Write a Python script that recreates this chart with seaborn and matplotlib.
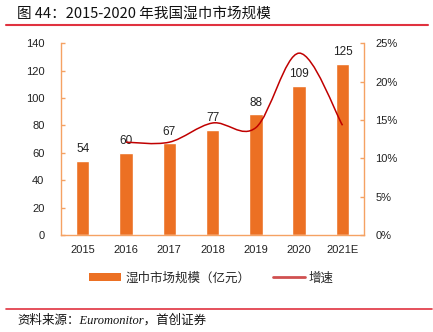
import matplotlib
matplotlib.use("Agg")
import numpy as np
import pandas as pd
import seaborn as sns
import matplotlib.pyplot as plt
from matplotlib.path import Path
from matplotlib.patches import PathPatch, Patch
from matplotlib.lines import Line2D
from matplotlib.ticker import PercentFormatter, MultipleLocator

# Wet-wipe market size (100 million CNY) and year-on-year growth
years = ["2015", "2016", "2017", "2018", "2019", "2020", "2021E"]
market_size = [54, 60, 67, 77, 88, 109, 125]
growth_years = ["2016", "2017", "2018", "2019", "2020", "2021E"]
growth = [0.121, 0.121, 0.146, 0.140, 0.237, 0.143]

title_text = "图 44：2015-2020 年我国湿巾市场规模"
bar_label = "湿巾市场规模（亿元）"
line_label = "增速"
source_text = "资料来源：Euromonitor，首创证券"

BAR = "#EC7023"
SPINE = "#F5A263"
LINE = "#C00000"
RULE = "#E0323F"

sns.set_theme(style="white")
plt.rcParams["font.family"] = ["Liberation Sans", "Noto Sans CJK SC"]

fig = plt.figure(figsize=(4.33, 3.32), dpi=100)
ax = fig.add_axes([0.141, 0.292, 0.700, 0.578])

df = pd.DataFrame({"year": years, "size": market_size})
sns.barplot(data=df, x="year", y="size", color=BAR, saturation=1,
            width=0.31, ax=ax)
ax.set_xlim(-0.5, 6.5)
ax.set_ylim(0, 140)
ax.yaxis.set_major_locator(MultipleLocator(20))
ax.set_xlabel("")
ax.set_ylabel("")

for i, v in enumerate(market_size):
    ax.annotate(f"{v}", (i, v), xytext=(0, 4), textcoords="offset points",
                ha="center", va="bottom", fontsize=8.5, color="#222222")

# Secondary axis for growth rate, drawn as a smoothed curve
ax2 = ax.twinx()
ax2.set_ylim(0, 0.25)
ax2.yaxis.set_major_locator(MultipleLocator(0.05))
ax2.yaxis.set_major_formatter(PercentFormatter(1.0, decimals=0))

gx = [years.index(y) for y in growth_years]
pts = np.column_stack([gx, growth])
n = len(pts)
verts = [pts[0]]
codes = [Path.MOVETO]
for i in range(n - 1):
    p0 = pts[i - 1] if i > 0 else pts[i]
    p1 = pts[i]
    p2 = pts[i + 1]
    p3 = pts[i + 2] if i + 2 < n else pts[i + 1]
    c1 = p1 + (p2 - p0) / 6.0
    c2 = p2 - (p3 - p1) / 6.0
    verts += [c1, c2, p2]
    codes += [Path.CURVE4] * 3
ax2.add_patch(PathPatch(Path(verts, codes), facecolor="none",
                        edgecolor=LINE, lw=1.1, transform=ax2.transData))

for a in (ax, ax2):
    for s in a.spines.values():
        s.set_visible(False)
ax.spines["left"].set_visible(True)
ax.spines["left"].set_color(SPINE)
ax.spines["bottom"].set_visible(True)
ax.spines["bottom"].set_color(SPINE)
ax2.spines["right"].set_visible(True)
ax2.spines["right"].set_color(SPINE)
for s in (ax.spines["left"], ax.spines["bottom"], ax2.spines["right"]):
    s.set_linewidth(1.0)

ax.tick_params(axis="y", direction="in", length=3, color=SPINE, width=1,
               labelsize=8, labelcolor="#222222", pad=12, left=True)
ax.tick_params(axis="x", length=0, labelsize=8, labelcolor="#222222", pad=7)
ax2.tick_params(axis="y", direction="in", length=3, color=SPINE, width=1,
                labelsize=8, labelcolor="#222222", pad=8, right=True)

handles = [Patch(facecolor=BAR, edgecolor="none"),
           Line2D([], [], color="#D05050", lw=2)]
fig.legend(handles, [bar_label, line_label], loc="center",
           bbox_to_anchor=(0.488, 0.163), ncol=2, frameon=False,
           fontsize=9, handlelength=2.6, handleheight=0.55,
           handletextpad=0.3, columnspacing=1.8,
           prop={"family": ["Noto Sans CJK SC"], "size": 9})

fig.text(0.04, 1 - 14 / 332, title_text, fontsize=10.5, va="center",
         ha="left", family=["Noto Sans CJK SC"], color="#111111")
fig.add_artist(Line2D([6 / 433, 428 / 433], [1 - 25 / 332, 1 - 25 / 332],
                      color=RULE, lw=1.5))
fig.add_artist(Line2D([6 / 433, 432 / 433], [1 - 308.5 / 332, 1 - 308.5 / 332],
                      color=RULE, lw=1.2))
fig.text(0.04, 1 - 320 / 332, source_text, fontsize=9, va="center",
         ha="left", style="italic",
         family=["Liberation Serif", "Noto Sans CJK SC"], color="#111111")

fig.savefig("out.png", dpi=100)
